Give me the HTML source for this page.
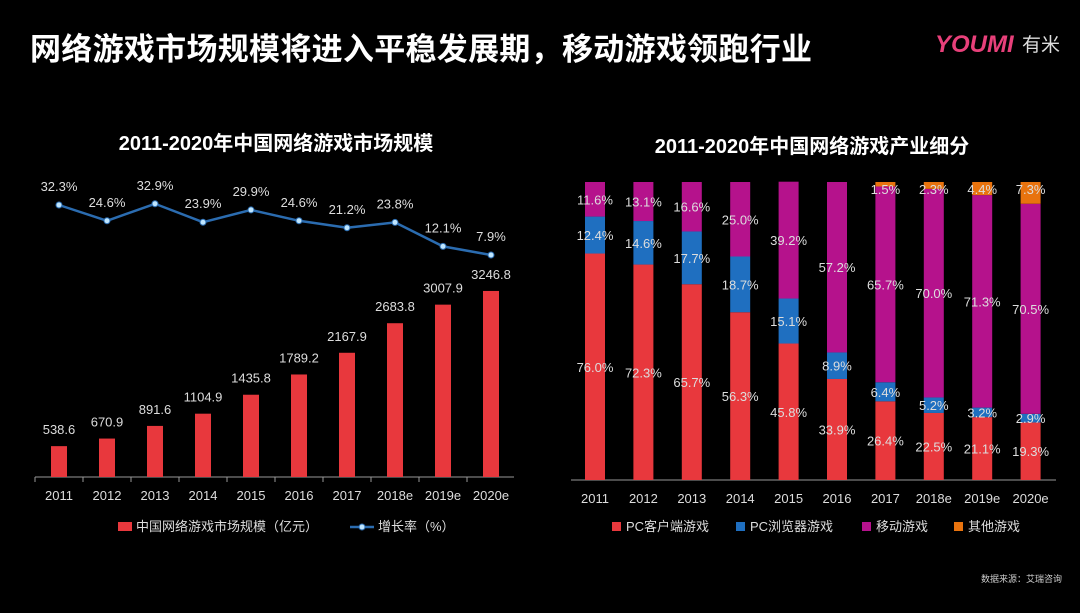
<!DOCTYPE html>
<html><head><meta charset="utf-8"><style>
body{margin:0;background:#000;width:1080px;height:608px;overflow:hidden;font-family:"Liberation Sans","Noto Sans CJK SC",sans-serif;}
svg text{font-family:"Liberation Sans","Noto Sans CJK SC",sans-serif;}
</style></head><body>
<svg id="s" width="1080" height="608">
<text x="30" y="60" fill="#fff" font-size="31" font-weight="bold" textLength="782">网络游戏市场规模将进入平稳发展期，移动游戏领跑行业</text>
<g><text x="935" y="52" fill="#e8407a" font-size="24" font-weight="bold" font-style="italic">YOUMI</text><text x="1022" y="51" fill="#ddd" font-size="19">有米</text></g>
<text x="276" y="150" fill="#fff" font-size="20" font-weight="bold" text-anchor="middle">2011-2020年中国网络游戏市场规模</text>
<text x="812" y="153" fill="#fff" font-size="20" font-weight="bold" text-anchor="middle">2011-2020年中国网络游戏产业细分</text>
<g id="left"></g><g id="right"></g>
<g>
<rect x="118" y="522" width="14" height="9" fill="#e8383d"/><text x="136" y="531" fill="#ddd" font-size="13">中国网络游戏市场规模（亿元）</text>
<line x1="350" y1="527" x2="374" y2="527" stroke="#2b6cb0" stroke-width="2.5"/><circle cx="362" cy="527" r="3" fill="#bfe6ff" stroke="#2b6cb0"/><text x="378" y="531" fill="#ddd" font-size="13">增长率（%）</text></g>
<g>
<rect x="612" y="522" width="9" height="9" fill="#e8383d"/><text x="626" y="531" fill="#ddd" font-size="13">PC客户端游戏</text>
<rect x="736" y="522" width="9" height="9" fill="#1f6fc0"/><text x="750" y="531" fill="#ddd" font-size="13">PC浏览器游戏</text>
<rect x="862" y="522" width="9" height="9" fill="#b5128c"/><text x="876" y="531" fill="#ddd" font-size="13">移动游戏</text>
<rect x="954" y="522" width="9" height="9" fill="#e8730e"/><text x="968" y="531" fill="#ddd" font-size="13">其他游戏</text></g>
<text x="1062" y="582" fill="#ccc" font-size="9" text-anchor="end">数据来源：艾瑞咨询</text>
</svg>
<script>
const years=["2011","2012","2013","2014","2015","2016","2017","2018e","2019e","2020e"];
const marketSize=[538.6,670.9,891.6,1104.9,1435.8,1789.2,2167.9,2683.8,3007.9,3246.8];
const growthRate=[32.3,24.6,32.9,23.9,29.9,24.6,21.2,23.8,12.1,7.9];
const pcClient=[76.0,72.3,65.7,56.3,45.8,33.9,26.4,22.5,21.1,19.3];
const pcBrowser=[12.4,14.6,17.7,18.7,15.1,8.9,6.4,5.2,3.2,2.9];
const mobile=[11.6,13.1,16.6,25.0,39.2,57.2,65.7,70.0,71.3,70.5];
const other=[0,0,0,0,0,0,1.5,2.3,4.4,7.3];
const NS="http://www.w3.org/2000/svg";
function mk(p,t,a,txt){const e=document.createElementNS(NS,t);for(const k in a)e.setAttribute(k,a[k]);if(txt!=null)e.textContent=txt;p.appendChild(e);return e;}
const L=document.getElementById('left');
const lx=i=>59+i*48, ly=v=>477-v*0.0573, gy=v=>205-(v-32.3)*2.05;
let ax=mk(L,'line',{x1:35,y1:477,x2:514,y2:477,stroke:'#999'});


years.forEach((y,i)=>{
 mk(L,'line',{x1:lx(i)-24,y1:477,x2:lx(i)-24,y2:482,stroke:'#999'});
 let t=mk(L,'text',{x:lx(i),y:500,fill:'#ddd','font-size':13,'text-anchor':'middle'},y);
 
 
 let b=mk(L,'rect',{x:lx(i)-8,y:ly(marketSize[i]),width:16,height:477-ly(marketSize[i]),fill:'#e8383d'});
 
 
 let v=mk(L,'text',{x:lx(i),y:ly(marketSize[i])-12,fill:'#ddd','font-size':13,'text-anchor':'middle'},marketSize[i].toFixed(1));
 
 
});
let pl=mk(L,'polyline',{points:growthRate.map((g,i)=>lx(i)+','+gy(g)).join(' '),fill:'none',stroke:'#2b6cb0','stroke-width':2.5});


growthRate.forEach((g,i)=>{
 let c=mk(L,'circle',{cx:lx(i),cy:gy(g),r:3,fill:'#bfe6ff',stroke:'#2b6cb0'});
 
 
 let t=mk(L,'text',{x:lx(i),y:gy(g)-14,fill:'#ddd','font-size':13,'text-anchor':'middle'},g.toFixed(1)+'%');
 
 
});
const R=document.getElementById('right');
const rx=i=>595+i*48.4, ry=v=>480-v*2.98;
let ax2=mk(R,'line',{x1:571,y1:480,x2:1056,y2:480,stroke:'#999'});


const series=[[pcClient,'#e8383d','pc-client'],[pcBrowser,'#1f6fc0','pc-browser'],[mobile,'#b5128c','mobile'],[other,'#e8730e','other']];
years.forEach((y,i)=>{
 let t=mk(R,'text',{x:rx(i),y:503,fill:'#ddd','font-size':13,'text-anchor':'middle'},y);
 
 
 let base=0;
 series.forEach(([arr,col,nm])=>{
  const v=arr[i]; if(!v){return;}
  let r=mk(R,'rect',{x:rx(i)-10,y:ry(base+v),width:20,height:v*2.98,fill:col});
  
  
  let ly2=ry(base+v/2)+5; if(nm==='other') ly2=ry(100)+12;
  let l=mk(R,'text',{x:rx(i),y:ly2,fill:'#ddd','font-size':13,'text-anchor':'middle'},v.toFixed(1)+'%');
  
  
  base+=v;
 });
});
</script>
</body></html>
